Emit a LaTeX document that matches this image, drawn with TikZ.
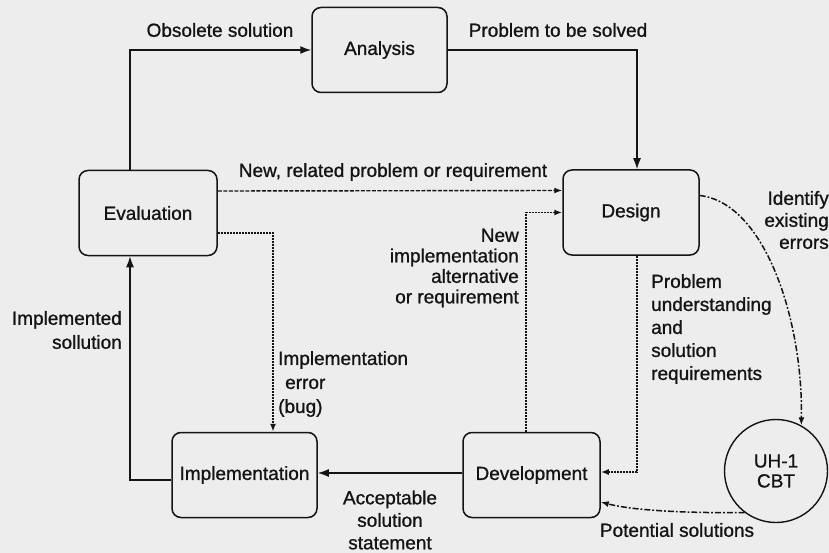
\documentclass[tikz,border=0pt]{standalone}
\usepackage{fontspec}
\setmainfont{Liberation Sans}[FakeBold=1.0]
\usetikzlibrary{arrows.meta}
\definecolor{bgc}{RGB}{237,237,237}
\definecolor{ink}{RGB}{20,20,20}
\begin{document}
\begin{tikzpicture}[x=1pt,y=-1pt,
  every node/.style={text=ink},
  box/.style={draw=ink, line width=1.5pt, rounded corners=9pt, minimum height=85pt, font=\fontsize{19}{22}\selectfont, inner sep=0pt},
  cbtnode/.style={draw=ink, line width=1.4pt, circle, minimum size=103pt, inner sep=0pt, align=center, font=\fontsize{19}{20}\selectfont},
  lbl/.style={font=\fontsize{19}{23}\selectfont, inner sep=0pt},
  solidarr/.style={draw=ink, line width=1.5pt, -{Latex[length=11pt,width=8pt]}},
  dashedarr/.style={draw=ink, line width=1.4pt, dash pattern=on 4pt off 1.5pt, -{Latex[length=8pt,width=6pt]}},
  dottedarr/.style={draw=ink, line width=1.7pt, dash pattern=on 1.8pt off 1.2pt, -{Latex[length=8pt,width=6pt]}},
  dashdotarr/.style={draw=ink, line width=1.5pt, dash pattern=on 6pt off 2pt on 1.8pt off 2pt, -{Latex[length=8pt,width=6pt]}}
]
\fill[bgc] (0,0) rectangle (829,553);
\useasboundingbox (0,0) rectangle (829,553);

% boxes
\node[box, minimum width=135pt] (ana) at (379.5,50) {Analysis};
\node[box, minimum width=136pt] (des) at (631,212.5) {Design};
\node[box, minimum width=138pt] (eva) at (148,213) {Evaluation};
\node[box, minimum width=145pt] (imp) at (244.5,475) {Implementation};
\node[box, minimum width=137pt] (dev) at (531.5,475) {Development};
\node[cbtnode] (cbt) at (776,471) {UH-1\\CBT};

% connectors
\draw[solidarr] ([xshift=-18pt]eva.north) |- (ana.west);
\draw[solidarr] (ana.east) -| ([xshift=6pt]des.north);
\draw[dashedarr] ([yshift=22pt]eva.east) -- ([yshift=22pt]des.west);
\draw[dottedarr] ([yshift=-20pt]eva.east) -| ([xshift=28.5pt]imp.north);
\draw[solidarr] ([yshift=-5pt]imp.west) -| ([xshift=-18pt]eva.south);
\draw[solidarr] ([yshift=2pt]dev.west) -- ([yshift=2pt]imp.east);
\draw[dottedarr] ([xshift=-5.5pt]dev.north) |- (des.west);
\draw[dottedarr] ([xshift=6pt]des.south) |- ([yshift=3pt]dev.east);
\draw[dashdotarr] ([yshift=17pt]des.east) .. controls (765,203) and (803,320) .. (cbt.61);
\draw[dashdotarr] (cbt.233) .. controls (690,513) and (635,511) .. ([yshift=-27pt]dev.east);

% labels
\node[lbl] (lobs) at (220,30) {Obsolete solution};
\node[lbl] (lprob) at (558,30) {Problem to be solved};
\node[lbl] (lnew) at (393,172) {New, related problem or requirement};
\node[lbl, anchor=east, align=right, font=\fontsize{19}{22}\selectfont] (lident) at (829,220) {Identify\hspace{24pt}\\existing\hspace{6pt}\\errors};
\node[lbl, anchor=east, align=right, font=\fontsize{19}{20.5}\selectfont] (lalt) at (519,268) {New\\implementation\\alternative\\or requirement};
\node[lbl, anchor=west, align=left] (lund) at (651,329) {Problem\\understanding\\and\\solution\\requirements};
\node[lbl, anchor=west, align=left, font=\fontsize{19}{24}\selectfont] (lbug) at (278,384) {Implementation\\\hspace{7pt}error\\(bug)};
\node[lbl, anchor=east, align=right, font=\fontsize{19}{24}\selectfont] (limpl) at (122,330) {Implemented\\sollution\hspace{4pt}};
\node[lbl, align=center, font=\fontsize{19}{22.5}\selectfont] (lacc) at (390,520) {Acceptable\\solution\\statement};
\node[lbl] (lpot) at (677,530) {Potential solutions};
\end{tikzpicture}
\end{document}
